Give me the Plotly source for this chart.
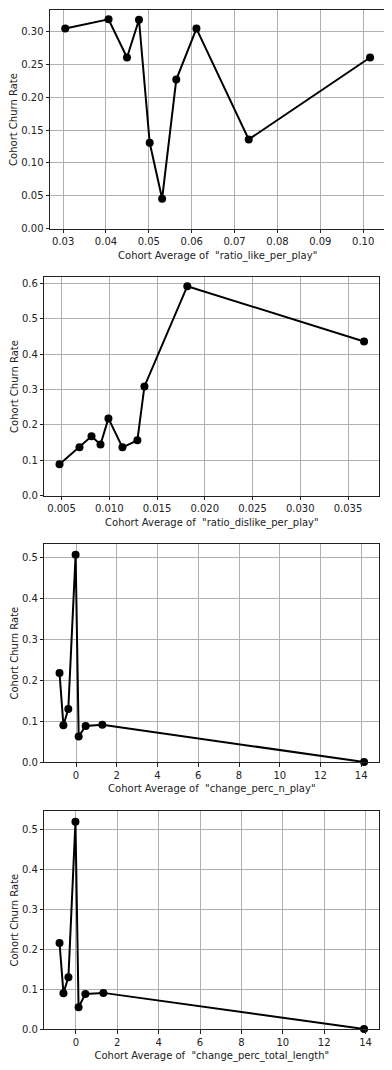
import plotly.graph_objects as go

# ---- data ----
x_like = [0.0305, 0.0406, 0.0449, 0.0477, 0.0502, 0.0531, 0.0564, 0.0611, 0.0733, 0.1016]
y_like = [0.3045, 0.3187, 0.2605, 0.3180, 0.1307, 0.0456, 0.2270, 0.3045, 0.1359, 0.2605]

x_dislike = [0.00479, 0.00688, 0.00814, 0.00908, 0.00991, 0.01138, 0.01294, 0.01368, 0.01817, 0.03668]
y_dislike = [0.0887, 0.1367, 0.1678, 0.1450, 0.2186, 0.1367, 0.1565, 0.3090, 0.5924, 0.4362]

x_nplay = [-0.81, -0.62, -0.38, -0.02, 0.13, 0.47, 1.29, 14.14]
y_nplay = [0.218, 0.0902, 0.1296, 0.508, 0.0623, 0.0885, 0.0910, 0.0]

x_length = [-0.79, -0.60, -0.36, -0.02, 0.13, 0.46, 1.33, 13.93]
y_length = [0.2157, 0.0899, 0.1300, 0.520, 0.0546, 0.0880, 0.0906, 0.0]

x_titles = [
    'Cohort Average of  "ratio_like_per_play"',
    'Cohort Average of  "ratio_dislike_per_play"',
    'Cohort Average of  "change_perc_n_play"',
    'Cohort Average of  "change_perc_total_length"',
]
y_title = "Cohort Churn Rate"

series = [(x_like, y_like), (x_dislike, y_dislike), (x_nplay, y_nplay), (x_length, y_length)]

# The page body has an 8px margin, so the figure starts at (8, 8) in the window.
OFF = 8
W, H = 392 - OFF, 1070 - OFF
# pixel boxes in window coordinates (left, right, top, bottom)
boxes = [
    (50.0, 385.3, 10.3, 228.7),
    (44.3, 379.3, 277.3, 495.7),
    (44.3, 379.3, 544.3, 762.0),
    (44.3, 379.3, 811.3, 1029.0),
]
xfmt = [".2f", ".3f", "d", "d"]
xdtick = [0.01, 0.005, 2, 2]
xtick0 = [0.0, 0.0, 0, 0]
yfmt = [".2f", ".1f", ".1f", ".1f"]
ydtick = [0.05, 0.1, 0.1, 0.1]

def auto_range(vals):
    lo, hi = min(vals), max(vals)
    m = 0.05 * (hi - lo)
    return lo - m, hi + m

fig = go.Figure()
font = dict(family="DejaVu Sans", size=10, color="#222222")

for i, ((xs, ys), (l, r, t, b)) in enumerate(zip(series, boxes)):
    n = "" if i == 0 else str(i + 1)
    l, r, t, b = l - OFF, r - OFF, t - OFF, b - OFF
    fig.add_trace(go.Scatter(
        x=xs, y=ys, mode="lines+markers",
        line=dict(color="black", width=2),
        marker=dict(color="black", size=8),
        xaxis="x" + n, yaxis="y" + n, showlegend=False,
        cliponaxis=False,
    ))
    xr = auto_range(xs)
    ytop = auto_range(ys)[1]
    common = dict(
        showline=True, mirror=True, linecolor="#222222", linewidth=1,
        showgrid=True, gridcolor="#b0b0b0", gridwidth=0.8,
        ticks="outside", ticklen=3.5, tickcolor="#222222", tickwidth=0.8,
        tickfont=font, zeroline=False, automargin=False,
    )
    fig.update_layout(**{
        "xaxis" + n: dict(
            domain=[l / W, r / W], anchor="y" + n, range=list(xr),
            tickformat=xfmt[i], dtick=xdtick[i], tick0=xtick0[i],
            title=dict(text=x_titles[i], font=font, standoff=5),
            **common,
        ),
        "yaxis" + n: dict(
            domain=[1 - b / H, 1 - t / H], anchor="x" + n, range=[0, ytop],
            tickformat=yfmt[i], dtick=ydtick[i], tick0=0,
            title=dict(text=y_title, font=font, standoff=1),
            **common,
        ),
    })

fig.update_layout(
    width=W, height=H,
    margin=dict(l=0, r=0, t=0, b=0, autoexpand=False),
    paper_bgcolor="white", plot_bgcolor="white",
    font=font,
)

fig.write_html("out.html")
